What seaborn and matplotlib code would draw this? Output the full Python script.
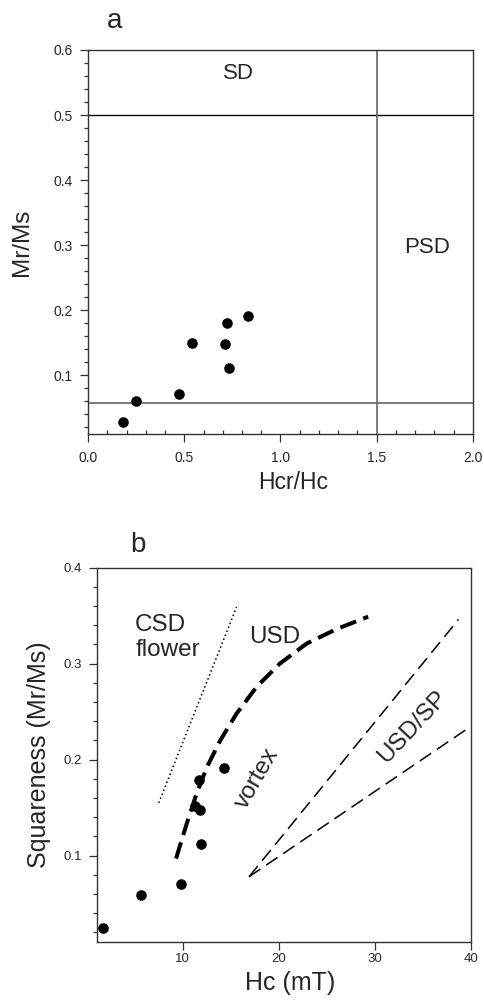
import numpy as np
import matplotlib
matplotlib.use("Agg")
import matplotlib.pyplot as plt
from matplotlib.ticker import MultipleLocator, FormatStrFormatter
import seaborn as sns

# ---- panel a: Day-type plot ----
hcr_hc = [0.18, 0.25, 0.47, 0.54, 0.71, 0.72, 0.73, 0.83]
mr_ms_a = [0.029, 0.060, 0.072, 0.150, 0.149, 0.180, 0.112, 0.192]
sd_limit = 0.5
md_limit = 0.058
psd_limit = 1.5

# ---- panel b: squareness vs coercivity ----
hc = [1.7, 5.7, 9.8, 11.3, 11.8, 11.7, 11.9, 14.3]
mr_ms_b = [0.025, 0.059, 0.070, 0.152, 0.148, 0.179, 0.1125, 0.191]

csd_hc = [7.5, 15.6]
csd_sq = [0.155, 0.359]
usd_hc = [9.3, 10.4, 11.45, 12.5, 13.9, 15.6, 17.7, 20.1, 22.9, 26.0, 29.3]
usd_sq = [0.097, 0.133, 0.165, 0.192, 0.220, 0.248, 0.276, 0.300, 0.321,
          0.336, 0.349]
sp_upper_hc = [16.9, 38.7]
sp_upper_sq = [0.078, 0.346]
sp_lower_hc = [16.9, 39.6]
sp_lower_sq = [0.078, 0.232]

sns.set_style("ticks")
plt.rcParams["font.family"] = ["Liberation Sans", "DejaVu Sans"]

SPINE = "#333333"


def style_axes(ax, tick_size):
    for s in ax.spines.values():
        s.set_color(SPINE)
        s.set_linewidth(1.0)
    ax.tick_params(which="major", direction="out", length=6, width=0.9,
                   color=SPINE, labelsize=tick_size, pad=5)
    ax.tick_params(axis="y", which="minor", direction="out", length=3,
                   width=0.9, color=SPINE)
    # center-anchored axis labels so coordinates are label centres
    ax.xaxis.label.set_va("center")
    ax.yaxis.label.set_va("center")


fig = plt.figure(figsize=(4.84, 10), dpi=100)

# -------------------------------------------------------
# a
# -------------------------------------------------------
ax1 = fig.add_axes([0.182, 0.566, 0.795, 0.384])
ax1.axhline(sd_limit, color="black", lw=1.0, zorder=1)
ax1.axhline(md_limit, color="#666666", lw=1.2, zorder=1)
ax1.axvline(psd_limit, color="#666666", lw=1.2, zorder=1)
sns.scatterplot(x=hcr_hc, y=mr_ms_a, color="black", s=58, linewidth=0,
                ax=ax1, zorder=3)
ax1.set_xlim(0, 2.0)
ax1.set_ylim(0.01, 0.6)
ax1.xaxis.set_major_locator(MultipleLocator(0.5))
ax1.xaxis.set_minor_locator(MultipleLocator(0.1))
ax1.yaxis.set_major_locator(MultipleLocator(0.1))
ax1.yaxis.set_minor_locator(MultipleLocator(0.02))
ax1.xaxis.set_major_formatter(FormatStrFormatter("%.1f"))
ax1.yaxis.set_major_formatter(FormatStrFormatter("%.1f"))
ax1.set_xlabel("Hcr/Hc", fontsize=16.5)
ax1.set_ylabel("Mr/Ms", fontsize=17.5)
style_axes(ax1, 10)
ax1.tick_params(axis="x", which="major", pad=6)
ax1.tick_params(axis="x", which="minor", direction="in", length=3,
                width=0.9, color=SPINE)
ax1.xaxis.set_label_coords(0.534, -0.126)
ax1.yaxis.set_label_coords(-0.173, 0.5)
ax1.text(0.78, 0.564, "SD", fontsize=16, ha="center", va="center")
ax1.text(1.76, 0.297, "PSD", fontsize=16, ha="center", va="center")
fig.text(0.236, 0.972, "a", fontsize=20, ha="center", va="baseline")

# -------------------------------------------------------
# b
# -------------------------------------------------------
ax2 = fig.add_axes([0.201, 0.058, 0.772, 0.3743])
sns.lineplot(x=csd_hc, y=csd_sq, color="black", lw=1.1,
             linestyle=(0, (1, 1.8)), ax=ax2)
sns.lineplot(x=usd_hc, y=usd_sq, color="black", lw=2.9,
             linestyle=(0, (4.2, 1.9)), ax=ax2)
sns.lineplot(x=sp_upper_hc, y=sp_upper_sq, color="black", lw=1.1,
             linestyle=(0, (9, 4.5)), ax=ax2)
sns.lineplot(x=sp_lower_hc, y=sp_lower_sq, color="black", lw=1.1,
             linestyle=(0, (9, 4.5)), ax=ax2)
sns.scatterplot(x=hc, y=mr_ms_b, color="black", s=58, linewidth=0,
                ax=ax2, zorder=3)
ax2.set_xlim(1.1, 40)
ax2.set_ylim(0.01, 0.4)
ax2.set_xticks([10, 20, 30, 40])
ax2.yaxis.set_major_locator(MultipleLocator(0.1))
ax2.yaxis.set_minor_locator(MultipleLocator(0.02))
ax2.yaxis.set_major_formatter(FormatStrFormatter("%.1f"))
ax2.set_xlabel("Hc (mT)", fontsize=18)
ax2.set_ylabel("Squareness (Mr/Ms)", fontsize=18)
style_axes(ax2, 9.5)
ax2.tick_params(axis="x", which="major", pad=2)
ax2.xaxis.set_label_coords(0.516, -0.1095)
ax2.yaxis.set_label_coords(-0.156, 0.5)
ax2.text(5.05, 0.3275, "CSD\nflower", fontsize=17.5, ha="left",
         va="center", linespacing=1.15)
ax2.text(19.6, 0.328, "USD", fontsize=17.5, ha="center", va="center")
ax2.text(17.75, 0.180, "vortex", fontsize=17.5, ha="center", va="center",
         rotation=60)
ax2.text(33.9, 0.234, "USD/SP", fontsize=17.5, ha="center", va="center",
         rotation=47)
fig.text(0.284, 0.448, "b", fontsize=20, ha="center", va="baseline")

plt.savefig("out.png", dpi=100)
plt.close()
